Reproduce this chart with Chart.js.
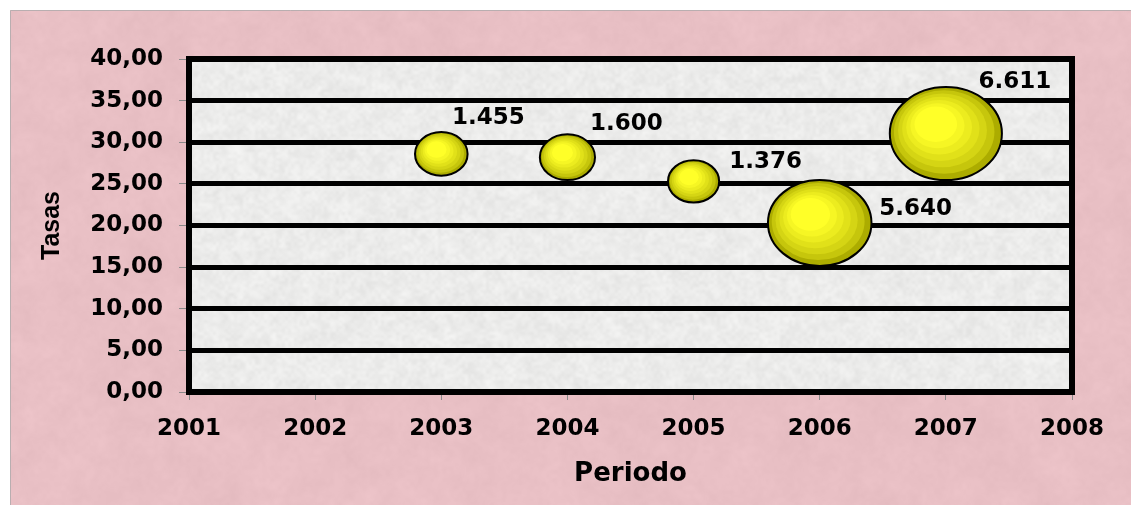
<!DOCTYPE html>
<html>
<head>
<meta charset="utf-8">
<script src="https://cdn.jsdelivr.net/npm/chart.js@4"></script>
<style>
  html, body { margin: 0; padding: 0; background: #ffffff; }
  canvas { display: block; }
</style>
</head>
<body>
<canvas id="chart" width="1131" height="505"></canvas>
<script>
// Series: one bubble per period, height = tasa, area = volumen
const periodos = [2003, 2004, 2005, 2006, 2007];
const tasas = [28.6, 28.2, 25.3, 20.3, 31.05];
const volumen = [1455, 1600, 1376, 5640, 6611];

// Axis ticks
const xTickYears = [2001, 2002, 2003, 2004, 2005, 2006, 2007, 2008];
const yTickValues = [0, 5, 10, 15, 20, 25, 30, 35, 40];

// Where each value label sits relative to its bubble centre (px)
const labelOffsets = [[47, -36], [59, -33], [72, -19], [96, -14], [69, -51]];

const BUBBLE_SCALE = 21.8;   // px of horizontal radius per sqrt(thousand)
const BUBBLE_SQUASH = 0.83;  // vertical / horizontal radius

const formatMiles = n => String(n).replace(/\B(?=(\d{3})+(?!\d))/g, '.');
const formatTasa = v => Number(v).toFixed(2).replace('.', ',');

// ---------- textures ----------
function rng(seed) {
  return function () {
    seed = (seed + 0x6D2B79F5) | 0;
    let t = Math.imul(seed ^ (seed >>> 15), 1 | seed);
    t = (t + Math.imul(t ^ (t >>> 7), 61 | t)) ^ t;
    return ((t ^ (t >>> 14)) >>> 0) / 4294967296;
  };
}

function noiseLayer(w, h, cell, seed, base, amp) {
  const sw = Math.ceil(w / cell) + 2, sh = Math.ceil(h / cell) + 2;
  const small = document.createElement('canvas');
  small.width = sw; small.height = sh;
  const sctx = small.getContext('2d');
  const img = sctx.createImageData(sw, sh);
  const r = rng(seed);
  for (let i = 0; i < sw * sh; i++) {
    const n = (r() - 0.5) * 2 * amp;
    img.data[i * 4] = base[0] + n;
    img.data[i * 4 + 1] = base[1] + n;
    img.data[i * 4 + 2] = base[2] + n;
    img.data[i * 4 + 3] = 255;
  }
  sctx.putImageData(img, 0, 0);
  const big = document.createElement('canvas');
  big.width = w; big.height = h;
  const b = big.getContext('2d');
  b.imageSmoothingEnabled = true;
  b.imageSmoothingQuality = 'high';
  b.drawImage(small, -cell, -cell, sw * cell, sh * cell);
  return big;
}

function texture(w, h, base, layers, seed) {
  const c = document.createElement('canvas');
  c.width = w; c.height = h;
  const ctx = c.getContext('2d');
  ctx.fillStyle = `rgb(${base[0]},${base[1]},${base[2]})`;
  ctx.fillRect(0, 0, w, h);
  layers.forEach((l, i) => {
    ctx.globalAlpha = l.alpha;
    ctx.drawImage(noiseLayer(w, h, l.cell, seed + i * 97, base, l.amp), 0, 0);
  });
  ctx.globalAlpha = 1;
  return c;
}

let pinkTex = null, greyTex = null;

const backgroundPlugin = {
  id: 'fondos',
  beforeDraw(chart) {
    const { ctx, width, height, chartArea: a } = chart;
    ctx.save();
    ctx.fillStyle = '#ffffff';
    ctx.fillRect(0, 0, width, height);
    if (!pinkTex) {
      pinkTex = texture(width - 10, height - 10, [233, 192, 197],
        [{ cell: 30, amp: 9, alpha: 1 }, { cell: 12, amp: 6, alpha: 0.6 }, { cell: 4, amp: 4, alpha: 0.4 }], 11);
    }
    ctx.drawImage(pinkTex, 10, 10);
    ctx.strokeStyle = '#b9aeb0';
    ctx.lineWidth = 1;
    ctx.beginPath();
    ctx.moveTo(10.5, height);
    ctx.lineTo(10.5, 10.5);
    ctx.lineTo(width, 10.5);
    ctx.stroke();

    const w = Math.round(a.right - a.left), h = Math.round(a.bottom - a.top);
    if (!greyTex) {
      greyTex = texture(w, h, [236, 236, 235],
        [{ cell: 3, amp: 15, alpha: 0.85 }, { cell: 8, amp: 7, alpha: 0.6 }], 5);
    }
    ctx.drawImage(greyTex, a.left, a.top);
    ctx.restore();
  },
  beforeDatasetsDraw(chart) {
    const { ctx, chartArea: a } = chart;
    ctx.save();
    ctx.strokeStyle = '#000000';
    ctx.lineWidth = 6;
    ctx.strokeRect(a.left, a.top, a.right - a.left, a.bottom - a.top);
    ctx.restore();
  }
};

// ---------- bubbles ----------
function mix(c1, c2, t) {
  return `rgb(${Math.round(c1[0] + (c2[0] - c1[0]) * t)},${Math.round(c1[1] + (c2[1] - c1[1]) * t)},${Math.round(c1[2] + (c2[2] - c1[2]) * t)})`;
}

function drawBubble(ctx, x, y, rx, ry) {
  const steps = 7;
  const hx = x - 0.18 * rx, hy = y - 0.2 * ry;
  for (let i = 0; i < steps; i++) {
    const t = i / (steps - 1);
    const s = 1 - t * 0.62;
    const cx = x + (hx - x) * t, cy = y + (hy - y) * t;
    ctx.beginPath();
    ctx.ellipse(cx, cy, rx * s, ry * s, 0, 0, Math.PI * 2);
    ctx.fillStyle = mix([172, 172, 0], [255, 255, 40], Math.pow(t, 0.65));
    ctx.fill();
  }
  ctx.beginPath();
  ctx.ellipse(x, y, rx, ry, 0, 0, Math.PI * 2);
  ctx.lineWidth = 2;
  ctx.strokeStyle = '#000000';
  ctx.stroke();
}

const bubblePlugin = {
  id: 'burbujas',
  beforeDatasetDraw(chart, args) {
    const { ctx } = chart;
    ctx.save();
    args.meta.data.forEach(el => {
      const rx = el.options.radius;
      drawBubble(ctx, el.x, el.y, rx, rx * BUBBLE_SQUASH);
    });
    ctx.restore();
    return false;
  },
  afterDatasetsDraw(chart) {
    const { ctx } = chart;
    const meta = chart.getDatasetMeta(0);
    ctx.save();
    ctx.font = 'bold 23px "DejaVu Sans"';
    ctx.fillStyle = '#000000';
    ctx.textAlign = 'center';
    ctx.textBaseline = 'middle';
    meta.data.forEach((el, i) => {
      const [dx, dy] = labelOffsets[i];
      ctx.fillText(formatMiles(volumen[i]), el.x + dx, el.y + dy);
    });
    ctx.restore();
  }
};

const bubbleData = periodos.map((p, i) => ({
  x: p,
  y: tasas[i],
  r: BUBBLE_SCALE * Math.sqrt(volumen[i] / 1000)
}));

const tickFont = { family: '"DejaVu Sans"', size: 23, weight: 'bold' };

new Chart(document.getElementById('chart'), {
  type: 'bubble',
  data: {
    datasets: [{
      label: 'Volumen',
      data: bubbleData,
      backgroundColor: '#ffff00',
      borderColor: '#000000'
    }]
  },
  plugins: [backgroundPlugin, bubblePlugin],
  options: {
    responsive: false,
    animation: false,
    devicePixelRatio: 1,
    events: [],
    layout: { padding: { left: 10, top: 59, right: 59, bottom: 0 } },
    plugins: { legend: { display: false }, tooltip: { enabled: false } },
    scales: {
      x: {
        type: 'linear',
        min: xTickYears[0],
        max: xTickYears[xTickYears.length - 1],
        afterBuildTicks: s => { s.ticks = xTickYears.map(v => ({ value: v })); },
        afterFit: s => { s.height = 113; },
        grid: {
          drawOnChartArea: false,
          drawTicks: true,
          tickLength: 8,
          tickColor: '#8a8a8a',
          tickWidth: 1
        },
        border: { display: true, color: '#000000', width: 6 },
        ticks: {
          color: '#000000',
          font: tickFont,
          padding: 15,
          maxRotation: 0,
          callback: v => String(v)
        },
        title: {
          display: true,
          text: 'Periodo',
          color: '#000000',
          font: { family: '"DejaVu Sans"', size: 26, weight: 'bold' },
          padding: { top: 0, bottom: 15 }
        }
      },
      y: {
        type: 'linear',
        min: yTickValues[0],
        max: yTickValues[yTickValues.length - 1],
        afterBuildTicks: s => { s.ticks = yTickValues.map(v => ({ value: v })); },
        afterFit: s => { s.width = 179; },
        grid: {
          color: '#000000',
          lineWidth: 5,
          drawTicks: true,
          tickLength: 10,
          tickColor: '#8a8a8a',
          tickWidth: 1
        },
        border: { display: true, color: '#000000', width: 6 },
        ticks: {
          color: '#000000',
          font: tickFont,
          padding: 16,
          callback: v => formatTasa(v)
        },
        title: {
          display: true,
          text: 'Tasas',
          color: '#000000',
          font: { family: '"Liberation Sans"', size: 25, weight: 'bold' },
          padding: { top: 27, bottom: 0 }
        }
      }
    }
  }
});
</script>
</body>
</html>
